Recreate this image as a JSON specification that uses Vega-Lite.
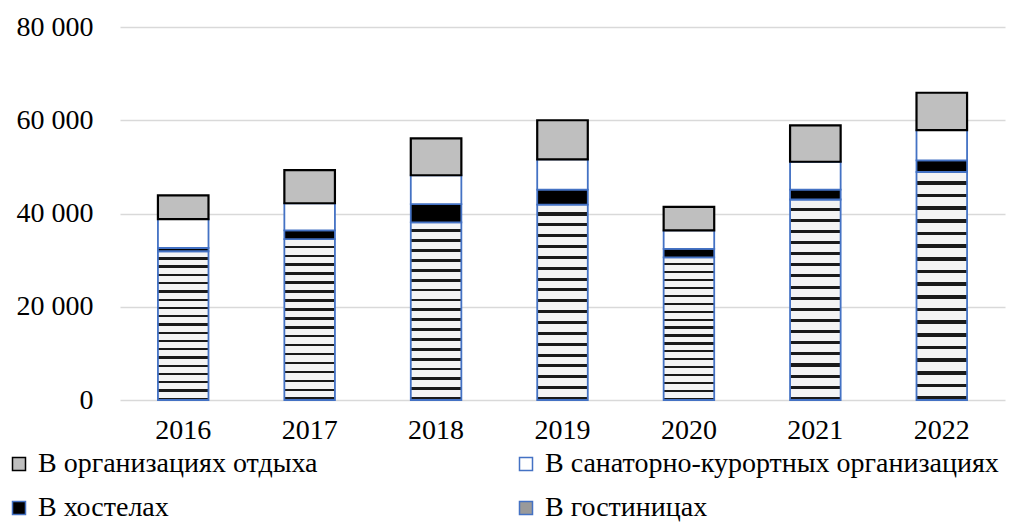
{
  "$schema": "https://vega.github.io/schema/vega-lite/v6.json",
  "width": 885,
  "height": 373,
  "autosize": {"type": "none"},
  "padding": {"left": 120, "top": 27, "right": 18, "bottom": 122},
  "background": "white",
  "config": {
    "font": "Liberation Serif",
    "view": {"stroke": null},
    "axis": {"labelFont": "Liberation Serif", "labelFontSize": 28, "labelColor": "#000000", "ticks": false, "title": null},
    "legend": {"labelFont": "Liberation Serif", "labelFontSize": 28, "labelColor": "#000000"}
  },
  "data": {
    "values": [
      {"year": "2016", "cat": "В гостиницах", "value": 31900},
      {"year": "2016", "cat": "В хостелах", "value": 700},
      {"year": "2016", "cat": "В санаторно-курортных организациях", "value": 6200},
      {"year": "2016", "cat": "В организациях отдыха", "value": 5100},
      {"year": "2017", "cat": "В гостиницах", "value": 34500},
      {"year": "2017", "cat": "В хостелах", "value": 1900},
      {"year": "2017", "cat": "В санаторно-курортных организациях", "value": 5800},
      {"year": "2017", "cat": "В организациях отдыха", "value": 7100},
      {"year": "2018", "cat": "В гостиницах", "value": 38100},
      {"year": "2018", "cat": "В хостелах", "value": 3900},
      {"year": "2018", "cat": "В санаторно-курортных организациях", "value": 6200},
      {"year": "2018", "cat": "В организациях отдыха", "value": 7900},
      {"year": "2019", "cat": "В гостиницах", "value": 41900},
      {"year": "2019", "cat": "В хостелах", "value": 3200},
      {"year": "2019", "cat": "В санаторно-курортных организациях", "value": 6500},
      {"year": "2019", "cat": "В организациях отдыха", "value": 8400},
      {"year": "2020", "cat": "В гостиницах", "value": 30600},
      {"year": "2020", "cat": "В хостелах", "value": 1800},
      {"year": "2020", "cat": "В санаторно-курортных организациях", "value": 4000},
      {"year": "2020", "cat": "В организациях отдыха", "value": 5000},
      {"year": "2021", "cat": "В гостиницах", "value": 43000},
      {"year": "2021", "cat": "В хостелах", "value": 2100},
      {"year": "2021", "cat": "В санаторно-курортных организациях", "value": 6000},
      {"year": "2021", "cat": "В организациях отдыха", "value": 7800},
      {"year": "2022", "cat": "В гостиницах", "value": 48900},
      {"year": "2022", "cat": "В хостелах", "value": 2500},
      {"year": "2022", "cat": "В санаторно-курортных организациях", "value": 6500},
      {"year": "2022", "cat": "В организациях отдыха", "value": 8000}
    ]
  },
  "transform": [
    {"calculate": "indexof(['В гостиницах', 'В хостелах', 'В санаторно-курортных организациях', 'В организациях отдыха'], datum.cat)", "as": "stackOrder"}
  ],
  "mark": {"type": "bar", "strokeWidth": 1.5},
  "encoding": {
    "x": {
      "field": "year",
      "type": "ordinal",
      "scale": {"paddingInner": 0.6, "paddingOuter": 0.3},
      "axis": {"labelAngle": 0, "domain": false, "labelPadding": 16, "grid": false}
    },
    "y": {
      "field": "value",
      "type": "quantitative",
      "stack": "zero",
      "scale": {"domain": [0, 80000], "nice": false},
      "axis": {
        "values": [0, 20000, 40000, 60000, 80000],
        "labelExpr": "replace(format(datum.value, ','), ',', ' ')",
        "domain": false,
        "grid": true,
        "gridColor": "#d9d9d9",
        "gridWidth": 1.5,
        "labelPadding": 27
      }
    },
    "order": {"field": "stackOrder", "type": "quantitative", "sort": "ascending"},
    "color": {
      "field": "cat",
      "type": "nominal",
      "scale": {
        "domain": ["В гостиницах", "В хостелах", "В санаторно-курортных организациях", "В организациях отдыха"],
        "range": ["#9a9a9a", "#000000", "#ffffff", "#bfbfbf"]
      },
      "legend": {
        "title": null,
        "orient": "none",
        "legendX": -115,
        "legendY": 423,
        "columns": 2,
        "columnPadding": 194,
        "rowPadding": 16,
        "symbolType": "square",
        "symbolSize": 169,
        "symbolStrokeWidth": 1.5,
        "labelOffset": 5,
        "labelLimit": 700,
        "values": ["В организациях отдыха", "В хостелах", "В санаторно-курортных организациях", "В гостиницах"]
      },
      "condition": {
        "test": "datum.cat === 'В гостиницах'",
        "value": {
          "gradient": "linear", "x1": 0, "y1": 0, "x2": 0, "y2": 1,
          "stops": [
            {"offset": 0, "color": "#f4f4f4"}, {"offset": 0.04, "color": "#f4f4f4"}, {"offset": 0.04, "color": "#1a1a1a"}, {"offset": 0.0556, "color": "#1a1a1a"},
            {"offset": 0.0556, "color": "#f4f4f4"}, {"offset": 0.0956, "color": "#f4f4f4"}, {"offset": 0.0956, "color": "#1a1a1a"}, {"offset": 0.1111, "color": "#1a1a1a"},
            {"offset": 0.1111, "color": "#f4f4f4"}, {"offset": 0.1511, "color": "#f4f4f4"}, {"offset": 0.1511, "color": "#1a1a1a"}, {"offset": 0.1667, "color": "#1a1a1a"},
            {"offset": 0.1667, "color": "#f4f4f4"}, {"offset": 0.2067, "color": "#f4f4f4"}, {"offset": 0.2067, "color": "#1a1a1a"}, {"offset": 0.2222, "color": "#1a1a1a"},
            {"offset": 0.2222, "color": "#f4f4f4"}, {"offset": 0.2622, "color": "#f4f4f4"}, {"offset": 0.2622, "color": "#1a1a1a"}, {"offset": 0.2778, "color": "#1a1a1a"},
            {"offset": 0.2778, "color": "#f4f4f4"}, {"offset": 0.3178, "color": "#f4f4f4"}, {"offset": 0.3178, "color": "#1a1a1a"}, {"offset": 0.3333, "color": "#1a1a1a"},
            {"offset": 0.3333, "color": "#f4f4f4"}, {"offset": 0.3733, "color": "#f4f4f4"}, {"offset": 0.3733, "color": "#1a1a1a"}, {"offset": 0.3889, "color": "#1a1a1a"},
            {"offset": 0.3889, "color": "#f4f4f4"}, {"offset": 0.4289, "color": "#f4f4f4"}, {"offset": 0.4289, "color": "#1a1a1a"}, {"offset": 0.4444, "color": "#1a1a1a"},
            {"offset": 0.4444, "color": "#f4f4f4"}, {"offset": 0.4844, "color": "#f4f4f4"}, {"offset": 0.4844, "color": "#1a1a1a"}, {"offset": 0.5, "color": "#1a1a1a"},
            {"offset": 0.5, "color": "#f4f4f4"}, {"offset": 0.54, "color": "#f4f4f4"}, {"offset": 0.54, "color": "#1a1a1a"}, {"offset": 0.5556, "color": "#1a1a1a"},
            {"offset": 0.5556, "color": "#f4f4f4"}, {"offset": 0.5956, "color": "#f4f4f4"}, {"offset": 0.5956, "color": "#1a1a1a"}, {"offset": 0.6111, "color": "#1a1a1a"},
            {"offset": 0.6111, "color": "#f4f4f4"}, {"offset": 0.6511, "color": "#f4f4f4"}, {"offset": 0.6511, "color": "#1a1a1a"}, {"offset": 0.6667, "color": "#1a1a1a"},
            {"offset": 0.6667, "color": "#f4f4f4"}, {"offset": 0.7067, "color": "#f4f4f4"}, {"offset": 0.7067, "color": "#1a1a1a"}, {"offset": 0.7222, "color": "#1a1a1a"},
            {"offset": 0.7222, "color": "#f4f4f4"}, {"offset": 0.7622, "color": "#f4f4f4"}, {"offset": 0.7622, "color": "#1a1a1a"}, {"offset": 0.7778, "color": "#1a1a1a"},
            {"offset": 0.7778, "color": "#f4f4f4"}, {"offset": 0.8178, "color": "#f4f4f4"}, {"offset": 0.8178, "color": "#1a1a1a"}, {"offset": 0.8333, "color": "#1a1a1a"},
            {"offset": 0.8333, "color": "#f4f4f4"}, {"offset": 0.8733, "color": "#f4f4f4"}, {"offset": 0.8733, "color": "#1a1a1a"}, {"offset": 0.8889, "color": "#1a1a1a"},
            {"offset": 0.8889, "color": "#f4f4f4"}, {"offset": 0.9289, "color": "#f4f4f4"}, {"offset": 0.9289, "color": "#1a1a1a"}, {"offset": 0.9444, "color": "#1a1a1a"},
            {"offset": 0.9444, "color": "#f4f4f4"}, {"offset": 0.9844, "color": "#f4f4f4"}, {"offset": 0.9844, "color": "#1a1a1a"}, {"offset": 1, "color": "#1a1a1a"}
          ]
        }
      }
    },
    "stroke": {
      "field": "cat",
      "type": "nominal",
      "scale": {
        "domain": ["В гостиницах", "В хостелах", "В санаторно-курортных организациях", "В организациях отдыха"],
        "range": ["#4472c4", "#4472c4", "#4472c4", "#000000"]
      },
      "legend": null
    },
    "strokeWidth": {
      "condition": {"test": "datum.cat === 'В организациях отдыха'", "value": 2.2},
      "value": 1.8
    }
  }
}
